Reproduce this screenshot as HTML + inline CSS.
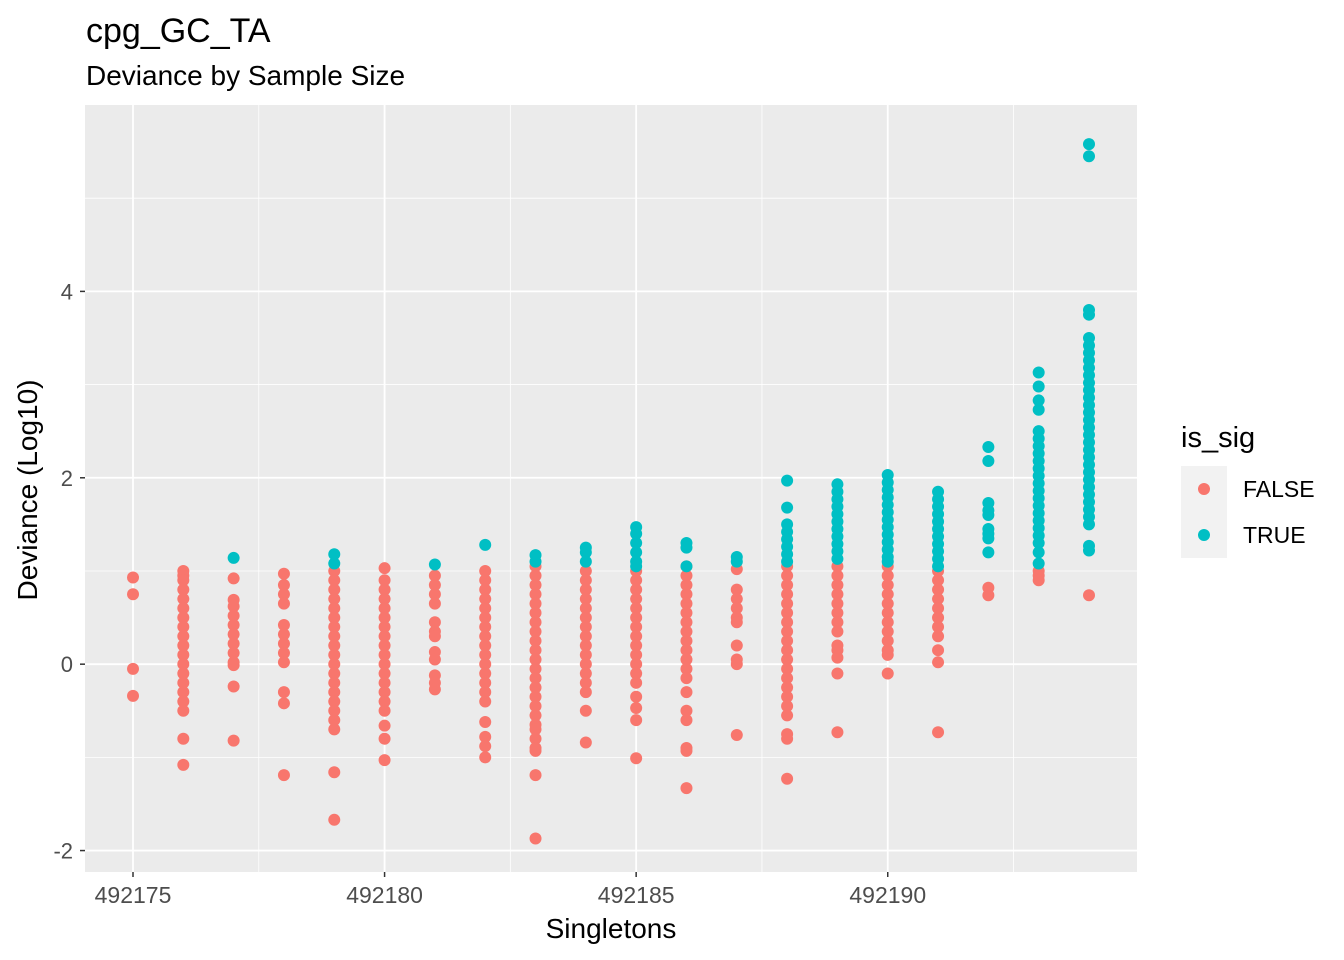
<!DOCTYPE html>
<html><head><meta charset="utf-8">
<style>
html,body{margin:0;padding:0;background:#fff;}
svg{display:block;font-family:"Liberation Sans",Arial,sans-serif;}
</style></head>
<body>
<svg id="chart" width="1344" height="960" xmlns="http://www.w3.org/2000/svg">
<text x="86" y="42" font-size="34" fill="#000">cpg_GC_TA</text>
<text x="86" y="85" font-size="28" fill="#000">Deviance by Sample Size</text>
<rect x="85" y="105" width="1052" height="767" fill="#EBEBEB"/>
<g id="grid"></g>
<g id="points"></g>
<g id="axes"></g>
<text x="611" y="938" font-size="28" text-anchor="middle" fill="#000">Singletons</text>
<text transform="translate(37,490) rotate(-90)" font-size="28" text-anchor="middle" fill="#000">Deviance (Log10)</text>
<g>
<text x="1181" y="447" font-size="29" fill="#000">is_sig</text>
<rect x="1181" y="466" width="46" height="46" fill="#F2F2F2"/>
<circle cx="1204" cy="489" r="6" fill="#F8766D"/>
<text x="1243" y="497" font-size="23" fill="#000">FALSE</text>
<rect x="1181" y="512" width="46" height="46" fill="#F2F2F2"/>
<circle cx="1204" cy="535" r="6" fill="#00BFC4"/>
<text x="1243" y="543" font-size="23" fill="#000">TRUE</text>
</g>
</svg>
<script>
const xTicks=[492175,492180,492185,492190];
const xMinor=[492177.5,492182.5,492187.5,492192.5];
const yTicks=[-2,0,2,4];
const yMinor=[-1,1,3,5];
const categories=[492175,492176,492177,492178,492179,492180,492181,492182,492183,492184,492185,492186,492187,492188,492189,492190,492191,492192,492193,492194];
const falseVals=[
[0.93,0.75,-0.05,-0.34],
[1.0,0.95,0.9,0.8,0.7,0.6,0.5,0.4,0.3,0.2,0.1,0.0,-0.1,-0.2,-0.3,-0.4,-0.5,-0.8,-1.08],
[0.92,0.69,0.62,0.52,0.42,0.32,0.22,0.12,0.02,-0.01,-0.24,-0.82],
[0.97,0.85,0.75,0.65,0.42,0.32,0.22,0.12,0.02,-0.3,-0.42,-1.19],
[1.0,0.9,0.8,0.7,0.6,0.5,0.4,0.3,0.2,0.1,0.0,-0.1,-0.2,-0.3,-0.4,-0.5,-0.6,-0.7,-1.16,-1.67],
[1.03,0.9,0.8,0.7,0.6,0.5,0.4,0.3,0.2,0.1,0.0,-0.1,-0.2,-0.3,-0.4,-0.5,-0.66,-0.8,-1.03],
[0.95,0.85,0.75,0.65,0.45,0.35,0.3,0.13,0.05,-0.12,-0.2,-0.27],
[1.0,0.9,0.8,0.7,0.6,0.5,0.4,0.3,0.2,0.1,0.0,-0.1,-0.2,-0.3,-0.4,-0.62,-0.78,-0.88,-1.0],
[1.05,0.95,0.85,0.75,0.65,0.55,0.45,0.35,0.25,0.15,0.05,-0.05,-0.15,-0.25,-0.35,-0.45,-0.55,-0.65,-0.7,-0.8,-0.9,-0.93,-1.19,-1.87],
[1.0,0.9,0.8,0.7,0.6,0.5,0.4,0.3,0.2,0.1,0.0,-0.1,-0.2,-0.3,-0.5,-0.84],
[1.0,0.9,0.8,0.7,0.6,0.5,0.4,0.3,0.2,0.1,0.0,-0.1,-0.2,-0.35,-0.47,-0.6,-1.01],
[1.05,0.95,0.85,0.75,0.65,0.55,0.45,0.35,0.25,0.15,0.05,-0.05,-0.15,-0.3,-0.5,-0.6,-0.9,-0.93,-1.33],
[1.02,0.8,0.7,0.6,0.5,0.45,0.2,0.05,0.0,-0.76],
[1.05,0.95,0.85,0.75,0.65,0.55,0.45,0.35,0.25,0.15,0.05,-0.05,-0.15,-0.25,-0.35,-0.45,-0.55,-0.75,-0.8,-1.23],
[1.05,0.95,0.85,0.75,0.65,0.55,0.45,0.35,0.2,0.15,0.07,-0.1,-0.73],
[1.05,0.95,0.85,0.75,0.65,0.55,0.45,0.35,0.25,0.15,0.1,-0.1],
[1.0,0.9,0.8,0.7,0.6,0.5,0.4,0.3,0.15,0.02,-0.73],
[0.82,0.74],
[1.0,0.95,0.9],
[0.74]
];
const trueVals=[
[],[],[1.14],[],[1.18,1.08],[],[1.07],[1.28],[1.17,1.1],[1.25,1.2,1.1],
[1.47,1.4,1.3,1.2,1.1,1.05],
[1.3,1.25,1.05],
[1.15,1.1],
[1.97,1.68,1.5,1.42,1.34,1.26,1.18,1.1],
[1.93,1.85,1.77,1.69,1.61,1.53,1.45,1.37,1.29,1.21,1.13],
[2.03,1.95,1.87,1.79,1.71,1.63,1.55,1.47,1.39,1.31,1.23,1.15,1.1],
[1.85,1.77,1.69,1.61,1.53,1.45,1.37,1.29,1.21,1.13,1.05],
[2.33,2.18,1.73,1.65,1.6,1.45,1.4,1.35,1.2],
[3.13,2.98,2.83,2.73,2.5,2.42,2.34,2.26,2.18,2.1,2.02,1.94,1.86,1.78,1.7,1.62,1.54,1.46,1.38,1.3,1.2,1.08],
[5.58,5.45,3.8,3.75,3.5,3.42,3.34,3.26,3.18,3.1,3.02,2.94,2.86,2.78,2.7,2.62,2.54,2.46,2.38,2.3,2.22,2.14,2.06,1.98,1.9,1.82,1.74,1.66,1.58,1.5,1.27,1.22]
];
const NS='http://www.w3.org/2000/svg';
const X0=85,X1=1137,Y0=105,Y1=872;
const xDom=[492174.046,492194.954], yDom=[-2.23,6.0];
function sx(v){return X0+(v-xDom[0])/(xDom[1]-xDom[0])*(X1-X0);}
function sy(v){return Y1-(v-yDom[0])/(yDom[1]-yDom[0])*(Y1-Y0);}
function mk(tag,attrs,parent){const e=document.createElementNS(NS,tag);for(const k in attrs)e.setAttribute(k,attrs[k]);parent.appendChild(e);return e;}
const grid=document.getElementById('grid'),pts=document.getElementById('points'),axes=document.getElementById('axes');
yMinor.forEach(v=>{const l=mk('line',{x1:X0,x2:X1,y1:sy(v),y2:sy(v),stroke:'#fff','stroke-width':0.8},grid);

});
xMinor.forEach(v=>{const l=mk('line',{x1:sx(v),x2:sx(v),y1:Y0,y2:Y1,stroke:'#fff','stroke-width':0.8},grid);

});
yTicks.forEach(v=>{const y=sy(v);const l=mk('line',{x1:X0,x2:X1,y1:y,y2:y,stroke:'#fff','stroke-width':1.8},grid);


const t=mk('line',{x1:X0-5,x2:X0,y1:y,y2:y,stroke:'#333','stroke-width':1.5},axes);


const tx=mk('text',{x:X0-12,y:y+8,'font-size':22,'text-anchor':'end',fill:'#4D4D4D'},axes);tx.textContent=v;

});
xTicks.forEach(v=>{const x=sx(v);const l=mk('line',{x1:x,x2:x,y1:Y0,y2:Y1,stroke:'#fff','stroke-width':1.8},grid);


const t=mk('line',{x1:x,x2:x,y1:Y1,y2:Y1+5,stroke:'#333','stroke-width':1.5},axes);


const tx=mk('text',{x:x,y:903,'font-size':23,'text-anchor':'middle',fill:'#4D4D4D'},axes);tx.textContent=v;

});
categories.forEach((c,i)=>{falseVals[i].forEach(v=>{const p=mk('circle',{cx:sx(c),cy:sy(v),r:6,fill:'#F8766D'},pts);

});});
categories.forEach((c,i)=>{trueVals[i].forEach(v=>{const p=mk('circle',{cx:sx(c),cy:sy(v),r:6,fill:'#00BFC4'},pts);

});});
</script>
</body></html>
